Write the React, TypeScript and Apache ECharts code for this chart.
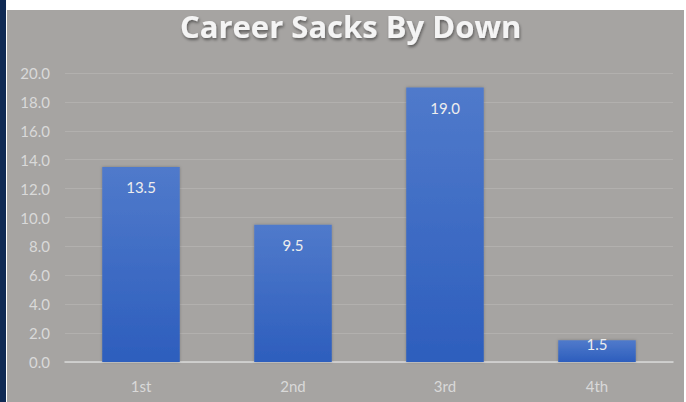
import React, { useEffect, useRef } from "react";
import * as echarts from "echarts";

const categories = ["1st", "2nd", "3rd", "4th"];
const sacks = [13.5, 9.5, 19.0, 1.5];
const titleText = "Career Sacks By Down";

export default function App() {
  const ref = useRef<HTMLDivElement>(null);
  useEffect(() => {
    document.body.style.margin = "0";
    const chart = echarts.init(ref.current!, undefined, { renderer: "svg" });
    chart.setOption({
      animation: false,
      backgroundColor: "#ffffff",
      graphic: [
        { type: "rect", z: -10, shape: { x: 0, y: 0, width: 6, height: 402 }, style: { fill: "#0f2a55" } },
        { type: "rect", z: -10, shape: { x: 7, y: 10, width: 677, height: 392 }, style: { fill: "#a6a4a2" } },
        {
          type: "text",
          z: 10,
          left: 350 - 170,
          top: 10,
          style: {
            text: titleText,
            fill: "#f4f4f4",
            font: "bold 31px 'Open Sans'",
            textShadowColor: "rgba(0,0,0,0.45)",
            textShadowBlur: 3,
            textShadowOffsetY: 2,
            textShadowOffsetX: 1,
          },
        },
      ],
      grid: { left: 65, right: 13, top: 73, bottom: 40 },
      xAxis: {
        type: "category",
        data: categories,
        axisLine: { lineStyle: { color: "#d9d9d9", width: 1.5 } },
        axisTick: { show: false },
        axisLabel: { color: "#d9d9d9", fontFamily: "Lato", fontSize: 15, margin: 16 },
      },
      yAxis: {
        type: "value",
        min: 0,
        max: 20,
        interval: 2,
        axisLine: { show: false },
        axisTick: { show: false },
        splitLine: { lineStyle: { color: "#b2b0ae", width: 1 } },
        axisLabel: {
          color: "#d9d9d9",
          fontFamily: "Lato",
          fontSize: 15,
          margin: 15,
          formatter: (v: number) => v.toFixed(1),
        },
      },
      series: [
        {
          type: "bar",
          data: sacks.map((v) =>
            v < 3 ? { value: v, label: { distance: 0, offset: [0, -4] } } : v
          ),
          barWidth: "51%",
          itemStyle: {
            color: new echarts.graphic.LinearGradient(0, 0, 0, 1, [
              { offset: 0, color: "#507acb" },
              { offset: 1, color: "#2d5ebd" },
            ]),
            shadowColor: "rgba(0,0,0,0.25)",
            shadowBlur: 3,
          },
          label: {
            show: true,
            position: "insideTop",
            distance: 13,
            color: "#eeeeee",
            fontFamily: "Lato",
            fontSize: 15,
            formatter: (p: any) => Number(p.value).toFixed(1),
          },
        },
      ],
    });
    return () => chart.dispose();
  }, []);
  return <div ref={ref} style={{ width: 686, height: 402 }} />;
}
